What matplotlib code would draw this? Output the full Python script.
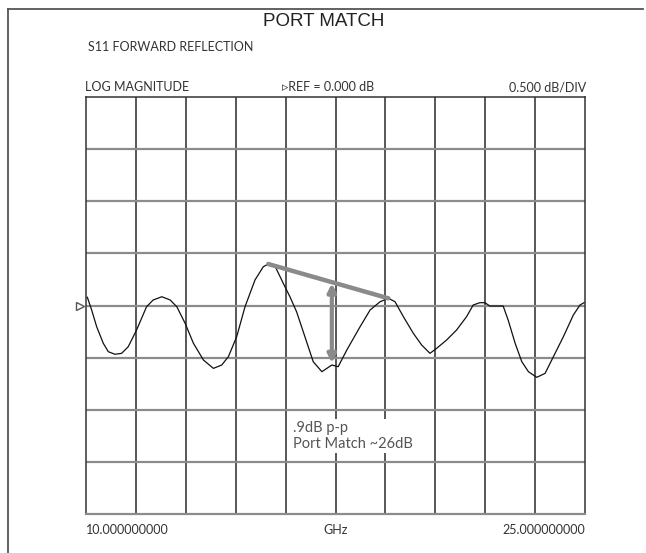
import matplotlib
matplotlib.use("Agg")
import matplotlib.pyplot as plt
import numpy as np

plt.rcParams["font.family"] = ["Lato", "DejaVu Sans"]

# S11 trace, frequency in GHz and magnitude in dB
freq = [10.04, 10.17, 10.32, 10.52, 10.67, 10.87, 11.07, 11.27, 11.52, 11.82,
        12.02, 12.28, 12.53, 12.73, 12.98, 13.23, 13.53, 13.83, 14.08, 14.28,
        14.53, 14.78, 15.08, 15.33, 15.48, 15.68, 15.93, 16.13, 16.33, 16.58,
        16.83, 17.09, 17.39, 17.58, 17.84, 18.24, 18.54, 18.84, 19.09, 19.29,
        19.54, 19.84, 20.09, 20.34, 20.54, 20.84, 21.14, 21.44, 21.64, 21.84,
        21.99, 22.14, 22.54, 22.69, 22.90, 23.10, 23.30, 23.55, 23.80, 24.05,
        24.35, 24.65, 24.85, 24.97]
s11 = [0.079, -0.043, -0.203, -0.363, -0.443, -0.468, -0.459, -0.395, -0.235, -0.012,
       0.053, 0.084, 0.053, -0.012, -0.171, -0.363, -0.523, -0.603, -0.571, -0.491,
       -0.299, -0.012, 0.245, 0.372, 0.398, 0.379, 0.213, 0.084, -0.060, -0.299,
       -0.539, -0.635, -0.571, -0.587, -0.427, -0.203, -0.043, 0.036, 0.069, 0.036,
       -0.107, -0.267, -0.379, -0.459, -0.411, -0.331, -0.235, -0.107, 0.005, 0.027,
       0.027, -0.005, -0.005, -0.139, -0.363, -0.539, -0.635, -0.689, -0.651, -0.491,
       -0.299, -0.091, 0.005, 0.027]

start_ghz, stop_ghz = 10.0, 25.0
ref_db, db_per_div = 0.0, 0.5
n_xdiv, n_ydiv = 10, 8

# peak-to-peak markup
pp_line = ([15.48, 19.09], [0.398, 0.069])
pp_arrow_x = 17.39
pp_arrow_y = (0.213, -0.552)
note = ".9dB p-p\nPort Match ~26dB"
note_pos = (16.22, -1.25)

W, H = 646, 553
fig = plt.figure(figsize=(W / 100, H / 100), dpi=100)


def fx(px):
    return px / W


def fy(py):
    return 1 - py / H


ax = fig.add_axes([fx(86), fy(514), fx(585) - fx(86), fy(97) - fy(514)])
ymin = ref_db - db_per_div * n_ydiv / 2
ymax = ref_db + db_per_div * n_ydiv / 2
ax.set_xlim(start_ghz, stop_ghz)
ax.set_ylim(ymin, ymax)
ax.set_xticks([])
ax.set_yticks([])

step = (stop_ghz - start_ghz) / n_xdiv
for i in range(1, n_xdiv):
    ax.axvline(start_ghz + i * step, color="#2a2a2a", lw=1.1, zorder=1)
for j in range(1, n_ydiv):
    ax.axhline(ymin + j * db_per_div, color="#8c8c8c", lw=1.6, zorder=1)

for side in ["left", "top", "right"]:
    ax.spines[side].set_color("#333333")
    ax.spines[side].set_linewidth(1.1)
ax.spines["bottom"].set_color("#8c8c8c")
ax.spines["bottom"].set_linewidth(1.6)

ax.plot(freq, s11, color="#111111", lw=0.9, zorder=3)

ax.plot(pp_line[0], pp_line[1], color="#8a8a8a", lw=3.2,
        solid_capstyle="round", zorder=4)
ax.annotate("", xy=(pp_arrow_x, pp_arrow_y[0]), xytext=(pp_arrow_x, pp_arrow_y[1]),
            arrowprops=dict(arrowstyle="<|-|>", color="#8a8a8a", lw=3,
                            mutation_scale=12, shrinkA=0, shrinkB=0), zorder=4)

# reference marker left of the grid
ax.plot([start_ghz - 0.18], [ref_db], marker=">", ms=6, mfc="white",
        mec="#555555", mew=1.0, clip_on=False, zorder=5)

ax.text(note_pos[0], note_pos[1], note, fontsize=10.5,
        color="#555555", ha="left", va="center", linespacing=1.2, zorder=5,
        bbox=dict(facecolor="white", edgecolor="none", pad=1.5))

# border of the screen
fig.add_artist(plt.Line2D([fx(8), fx(8)], [fy(9), 0], color="#555555", lw=1.3))
fig.add_artist(plt.Line2D([fx(8), fx(643)], [fy(9), fy(9)], color="#555555", lw=1.3))

tc = "#333333"
fs = 9
fig.text(fx(324), fy(22), "PORT MATCH", fontsize=13.5, ha="center", va="center",
         color="#222222", family=["Liberation Sans", "DejaVu Sans"])
fig.text(fx(88), fy(47), "S11 FORWARD REFLECTION", fontsize=fs, ha="left",
         va="center", color=tc)
fig.text(fx(85), fy(87), "LOG MAGNITUDE", fontsize=fs, ha="left", va="center", color=tc)
fig.text(fx(282), fy(87), "\u25b9REF = 0.000 dB", fontsize=fs, ha="left", va="center",
         color=tc)
fig.text(fx(586), fy(87), "0.500 dB/DIV", fontsize=fs, ha="right", va="center", color=tc)
fig.text(fx(86), fy(530), "10.000000000", fontsize=fs, ha="left", va="center", color=tc)
fig.text(fx(336), fy(530), "GHz", fontsize=fs, ha="center", va="center", color=tc)
fig.text(fx(585), fy(530), "25.000000000", fontsize=fs, ha="right", va="center", color=tc)

fig.savefig("out.png", dpi=100)
